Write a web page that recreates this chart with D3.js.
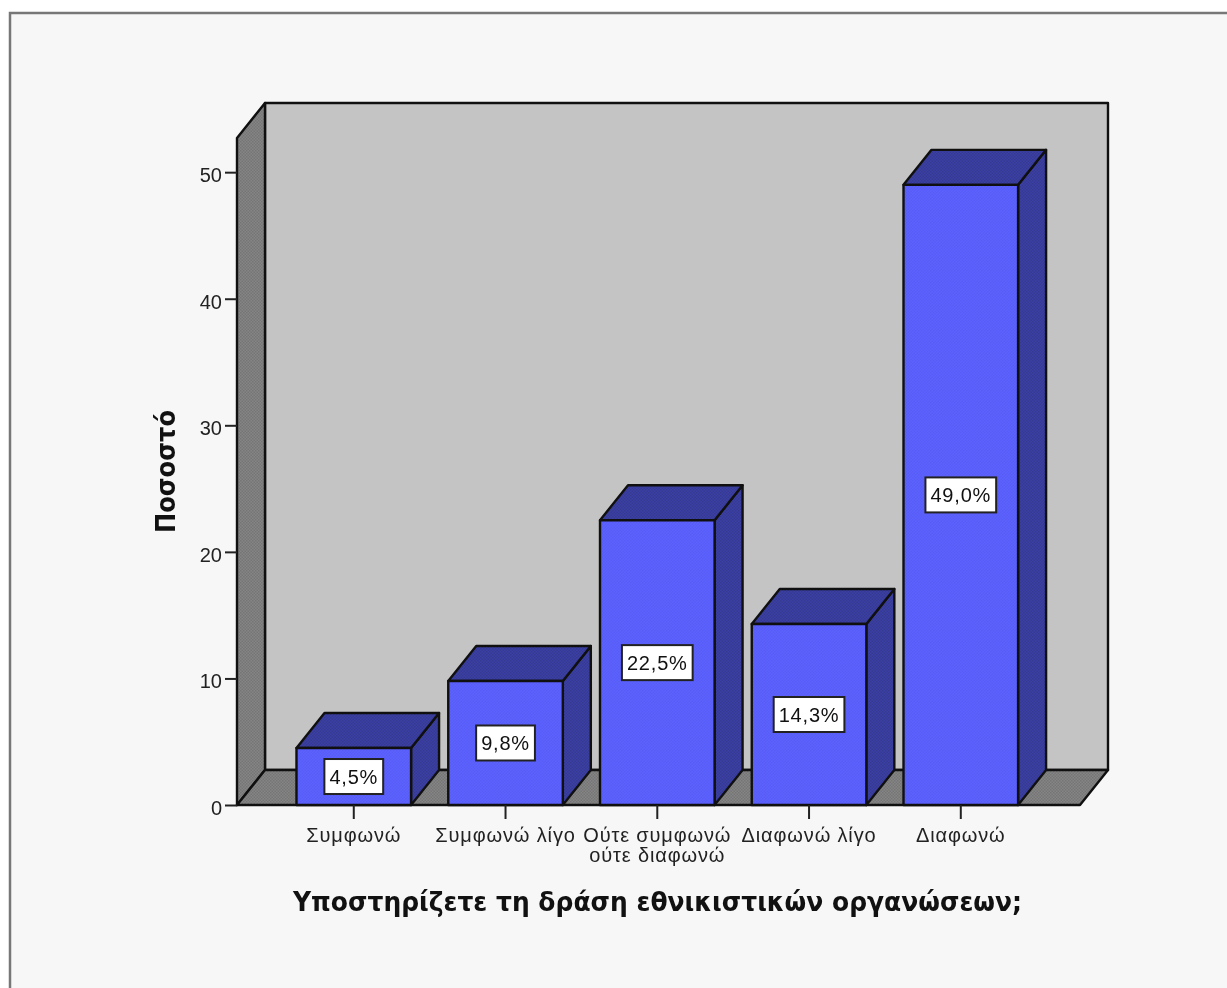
<!DOCTYPE html>
<html>
<head>
<meta charset="utf-8">
<script src="https://cdn.jsdelivr.net/npm/d3@7"></script>
<style>
  html, body { margin: 0; padding: 0; background: #fff; }
  svg { display: block; filter: blur(0.6px); }
  .tick text { fill: #222; }
</style>
</head>
<body>
<svg id="chart" width="1227" height="988"></svg>
<script>
var categories = ["Συμφωνώ", "Συμφωνώ λίγο", "Ούτε συμφωνώ\nούτε διαφωνώ", "Διαφωνώ λίγο", "Διαφωνώ"];
var percents = [4.5, 9.8, 22.5, 14.3, 49.0];
var valueLabels = ["4,5%", "9,8%", "22,5%", "14,3%", "49,0%"];
var yTicks = [0, 10, 20, 30, 40, 50];
var yTitle = "Ποσοστό";
var xTitle = "Υποστηρίζετε τη δράση εθνικιστικών οργανώσεων;";

var svg = d3.select("#chart");

var depthX = 28, depthY = -35;
var left = 237, right = 1080, bottom = 805, top_ = 138;
var INK = "#101010";

var x_scale = d3.scaleBand().domain(categories).range([left, right])
    .paddingInner(0.245).paddingOuter(0.40).align(0.49);
var y_scale = d3.scaleLinear().domain([0, 52.7]).range([bottom, top_]);

// small dither patterns, the original is a 256 colour export
var defs = svg.append("defs");
function dither(id, base, dot) {
    var p = defs.append("pattern").attr("id", id).attr("width", 3).attr("height", 3)
        .attr("patternUnits", "userSpaceOnUse");
    p.append("rect").attr("width", 3).attr("height", 3).attr("fill", base);
    p.append("rect").attr("width", 1.5).attr("height", 1.5).attr("fill", dot);
    p.append("rect").attr("x", 1.5).attr("y", 1.5).attr("width", 1.5).attr("height", 1.5).attr("fill", dot);
}
dither("dFront", "#5c62ff", "#585cf6");
dither("dDark", "#3b3fa6", "#35398f");
dither("dGrey", "#858585", "#757575");

function poly(pts) {
    return d3.line()(pts) + "Z";
}

// outer frame
svg.append("rect").attr("x", 10).attr("y", 13).attr("width", 1300).attr("height", 1100)
    .attr("fill", "#f7f7f7").attr("stroke", "#777").attr("stroke-width", 2.5);

var room = svg.append("g").attr("stroke", INK).attr("stroke-width", 2.4).attr("stroke-linejoin", "round");

// back wall
room.append("path").attr("fill", "#c4c4c4")
    .attr("d", poly([[left + depthX, top_ + depthY], [right + depthX, top_ + depthY], [right + depthX, bottom + depthY], [left + depthX, bottom + depthY]]));
// left wall
room.append("path").attr("fill", "url(#dGrey)")
    .attr("d", poly([[left, top_], [left + depthX, top_ + depthY], [left + depthX, bottom + depthY], [left, bottom]]));
// floor
room.append("path").attr("fill", "url(#dGrey)")
    .attr("d", poly([[left, bottom], [left + depthX, bottom + depthY], [right + depthX, bottom + depthY], [right, bottom]]));

// bars
var data = categories.map(function(c, i) {
    return {cat: c, value: percents[i], label: valueLabels[i]};
});

var bars = svg.append("g").attr("stroke", INK).attr("stroke-width", 2.4).attr("stroke-linejoin", "round")
    .selectAll("g").data(data).enter().append("g");

bars.append("path").attr("fill", "url(#dDark)").attr("d", function(d) {
    var x1 = x_scale(d.cat) + x_scale.bandwidth(), y1 = y_scale(d.value);
    return poly([[x1, y1], [x1 + depthX, y1 + depthY], [x1 + depthX, bottom + depthY], [x1, bottom]]);
});
bars.append("path").attr("fill", "url(#dDark)").attr("d", function(d) {
    var x0 = x_scale(d.cat), x1 = x0 + x_scale.bandwidth(), y1 = y_scale(d.value);
    return poly([[x0, y1], [x0 + depthX, y1 + depthY], [x1 + depthX, y1 + depthY], [x1, y1]]);
});
bars.append("rect").attr("fill", "url(#dFront)")
    .attr("x", function(d) { return x_scale(d.cat); })
    .attr("y", function(d) { return y_scale(d.value); })
    .attr("width", x_scale.bandwidth())
    .attr("height", function(d) { return bottom - y_scale(d.value); });

// value boxes
var boxes = svg.append("g").selectAll("g").data(data).enter().append("g")
    .attr("transform", function(d) {
        return "translate(" + (x_scale(d.cat) + x_scale.bandwidth() / 2) + "," + ((y_scale(d.value) + bottom) / 2) + ")";
    });
var boxRects = boxes.append("rect").attr("fill", "#fff").attr("stroke", "#222").attr("stroke-width", 2);
var boxText = boxes.append("text").attr("text-anchor", "middle").attr("y", 7.5)
    .attr("font-family", "Liberation Sans").attr("font-size", 20).attr("letter-spacing", 0.8).attr("fill", "#111")
    .text(function(d) { return d.label; });
boxRects.each(function(d, i) {
    var w = boxText.nodes()[i].getComputedTextLength() + 10;
    d3.select(this).attr("x", -w / 2).attr("y", -17.5).attr("width", w).attr("height", 35);
});

// axes
var yAxis = d3.axisLeft(y_scale).tickValues(yTicks).tickSize(12).tickPadding(3).tickFormat(d3.format("d"));
var yG = svg.append("g").attr("transform", "translate(" + left + ",0)").call(yAxis);
var xAxis = d3.axisBottom(x_scale).tickSize(14).tickPadding(0).tickFormat("");
var xG = svg.append("g").attr("transform", "translate(0," + bottom + ")").call(xAxis);

[yG, xG].forEach(function(g) {
    g.select(".domain").remove();
    g.selectAll("line").attr("stroke", "#222").attr("stroke-width", 2);
});
yG.selectAll("text").attr("font-family", "Liberation Sans").attr("font-size", 20).attr("dy", "0.47em");

xG.selectAll(".tick").each(function(d) {
    var t = d3.select(this).select("text").text(null)
        .attr("font-family", "Liberation Sans").attr("font-size", 20).attr("letter-spacing", 0.85)
        .attr("y", 0).attr("dy", null);
    d.split("\n").forEach(function(line, i) {
        t.append("tspan").attr("x", 0).attr("y", 36.5 + i * 20).text(line);
    });
});

// titles, the bitmap font is taller and tighter than DejaVu Bold
svg.append("text").attr("x", 657.5).attr("y", 911).attr("text-anchor", "middle")
    .attr("font-family", "DejaVu Sans").attr("font-weight", "bold").attr("font-size", 27).attr("fill", "#111")
    .attr("textLength", 729).attr("lengthAdjust", "spacingAndGlyphs")
    .text(xTitle);
svg.append("text").attr("transform", "translate(175,471.5) rotate(-90)").attr("text-anchor", "middle")
    .attr("font-family", "DejaVu Sans").attr("font-weight", "bold").attr("font-size", 27).attr("fill", "#111")
    .attr("textLength", 123).attr("lengthAdjust", "spacingAndGlyphs")
    .text(yTitle);
</script>
</body>
</html>
